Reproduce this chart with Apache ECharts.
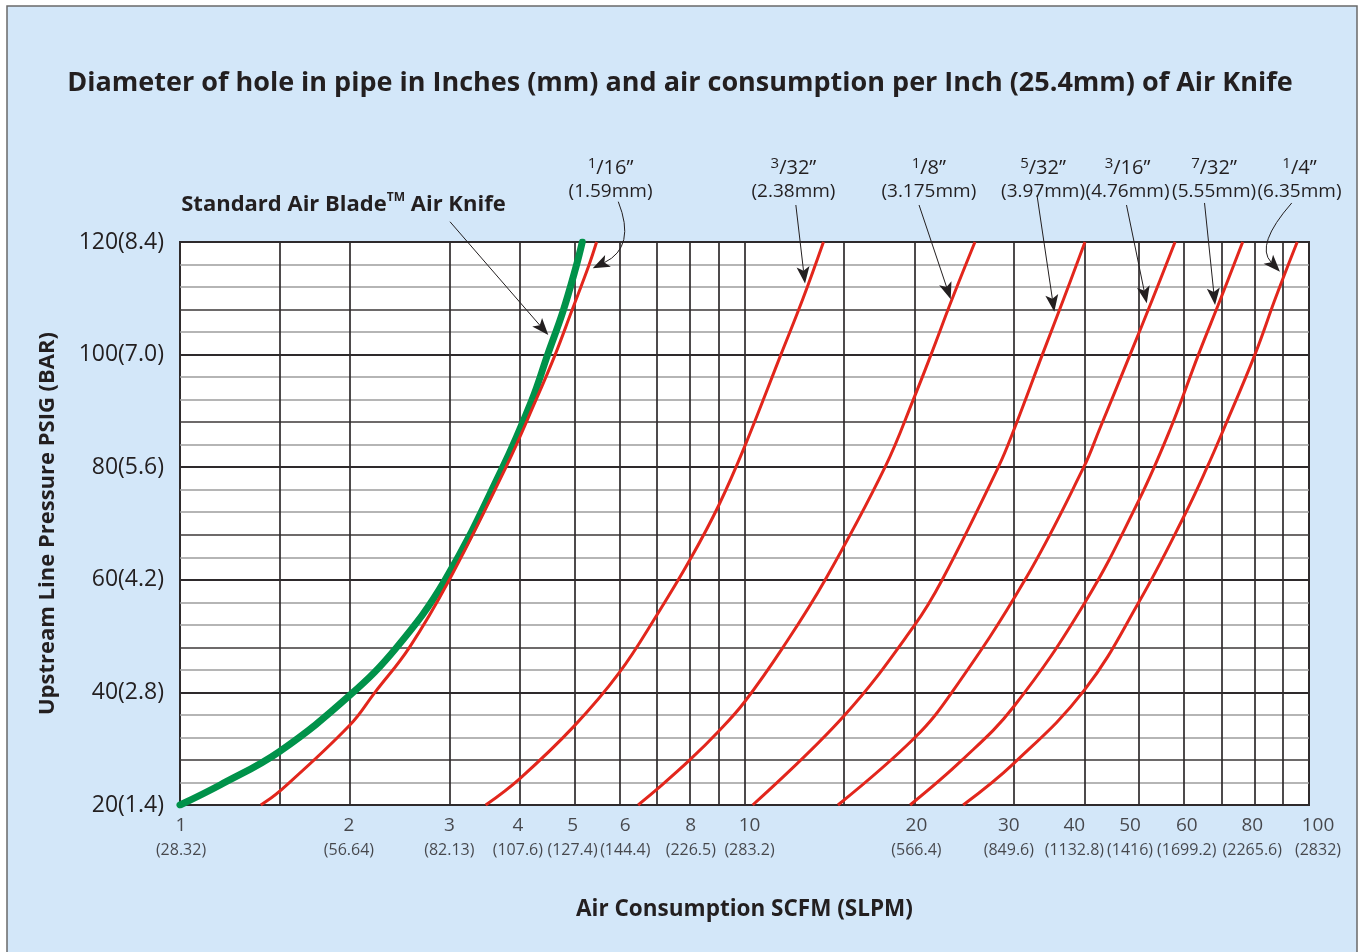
<!DOCTYPE html>
<html>
<head>
<meta charset="utf-8">
<script src="https://cdn.jsdelivr.net/npm/echarts@6/dist/echarts.min.js"></script>
<style>
html,body{margin:0;padding:0;background:#ffffff;}
#c{width:1360px;height:952px;}
</style>
</head>
<body>
<div id="c"></div>
<script>
// ---------------- data ----------------
const chartTitle = 'Diameter of hole in pipe in Inches (mm) and air consumption per Inch (25.4mm) of Air Knife';
const xAxisTitle = 'Air Consumption SCFM (SLPM)';
const yAxisTitle = 'Upstream Line Pressure PSIG (BAR)';

// x tick labels (SCFM and SLPM)
const xTickSCFM = [1, 2, 3, 4, 5, 6, 8, 10, 20, 30, 40, 50, 60, 80, 100];
const xTickSLPM = ['28.32', '56.64', '82.13', '107.6', '127.4', '144.4', '226.5', '283.2',
                   '566.4', '849.6', '1132.8', '1416', '1699.2', '2265.6', '2832'];
const xTickNudgePx = [1, -1, 0, -2, -2, 6, 1, 5, 2, -5, -10, -9, 3, -2, 9];
// vertical grid lines (SCFM)
const xGridSCFM = [1.5, 2, 3, 4, 5, 6, 7, 8, 9, 10, 15, 20, 30, 40, 50, 60, 70, 80, 90];
// y tick labels (PSIG and BAR)
const yTickPSIG = [20, 40, 60, 80, 100, 120];
const yTickBAR = ['1.4', '2.8', '4.2', '5.6', '7.0', '8.4'];

// Standard Air Blade curve
const bladeSCFM = [1, 1.18, 1.5, 2, 2.42, 2.95, 3.71, 4.2, 4.48, 4.77, 5.03, 5.16];
const bladePSIG = [20, 23.6, 29.5, 39.5, 48, 60, 79.5, 91.9, 100, 107.7, 115.6, 120];

// hole-size curves
const hole1_16SCFM = [1.39, 1.5, 2, 2.215, 2.55, 3.0, 3.78, 4.27, 4.62, 4.94, 5.29, 5.47];
const hole1_16PSIG = [20, 22.4, 34.2, 40, 48, 60, 80, 91.9, 100, 107.7, 115.6, 120];
const hole3_32SCFM = [3.48, 4, 5, 6, 7, 8, 9, 10, 11.6, 12.7, 13.8];
const hole3_32PSIG = [20, 24.7, 34.1, 43.5, 53.8, 63.5, 73.2, 83.6, 100, 110, 120];
const hole1_8SCFM = [6.48, 7, 8, 9, 10, 11.7, 13.9, 17.74, 20, 21.4, 23.35, 25.6];
const hole1_8PSIG = [20, 22.8, 28, 33.1, 38.3, 48, 60, 80, 92.5, 100, 110, 120];
const hole5_32SCFM = [10.34, 15, 20, 22.4, 28.16, 30, 33.7, 36.8, 40.1];
const hole5_32PSIG = [20, 35.8, 51.9, 60, 80, 86.6, 100, 110, 120];
const hole3_16SCFM = [14.64, 20, 23.3, 31.4, 39.9, 42.5, 48.2, 52.9, 57.9];
const hole3_16PSIG = [20, 31.9, 40, 60, 80, 86.6, 100, 110, 120];
const hole7_32SCFM = [19.65, 24.3, 30, 40, 50, 56.7, 63.7, 69.8, 76.3];
const hole7_32PSIG = [20, 28, 37.5, 55.8, 74.2, 86.6, 100, 110, 120];
const hole1_4SCFM = [24.4, 30, 40, 50, 60, 66, 70.5, 80.2, 87.2, 95.3];
const hole1_4PSIG = [20, 27.4, 40.4, 56.1, 71.2, 80, 86.6, 100, 110, 120];

// annotations (data coordinates: [SCFM, PSIG])
const holeNum = ['1', '3', '1', '5', '3', '7', '1'];
const holeDen = ['16', '32', '8', '32', '16', '32', '4'];
const holeMM = ['(1.59mm)', '(2.38mm)', '(3.175mm)', '(3.97mm)', '(4.76mm)', '(5.55mm)', '(6.35mm)'];
const holeLabelSCFM = [5.79, 12.21, 21.21, 33.8, 47.7, 67.9, 96.2];
const holeLabelFracPSIG = 133.1;
const holeLabelMmPSIG = 128.97;
const holeArrowTail = [[5.976, 127.16], [12.33, 126.57], [20.38, 126.57], [32.97, 128.35], [47.5, 126.57], [65.3, 126.93], [93.2, 126.93]];
const holeArrowBend = [[6.43, 119.11], null, null, null, null, null, [80.22, 119.47]];
const holeArrowTip = [[5.384, 115.33], [12.80, 112.61], [23.19, 109.82], [35.38, 107.62], [51.59, 109.11], [68.17, 108.81], [88.83, 114.73]];
const bladeLabelAt = [1.005, 126.6];
const bladeArrowTail = [3.008, 123.6];
const bladeArrowTip = [4.492, 103.48];

// ---------------- chart ----------------
const FONT = "'Open Sans', 'Noto Sans', 'DejaVu Sans', sans-serif";
const INK = '#231f20';
const RED = '#e2261c';
const GREEN = '#00924a';
const GRID_DARK = '#2f2b2c';
const GRID_GREY = '#9c9c9c';

const chart = echarts.init(document.getElementById('c'), null, {renderer: 'canvas'});

const curves = [
  {name: 'Standard Air Blade', x: bladeSCFM, y: bladePSIG, color: GREEN, width: 7, cap: 'round'},
  {name: '1/16', x: hole1_16SCFM, y: hole1_16PSIG, color: RED, width: 3},
  {name: '3/32', x: hole3_32SCFM, y: hole3_32PSIG, color: RED, width: 3},
  {name: '1/8', x: hole1_8SCFM, y: hole1_8PSIG, color: RED, width: 3},
  {name: '5/32', x: hole5_32SCFM, y: hole5_32PSIG, color: RED, width: 3},
  {name: '3/16', x: hole3_16SCFM, y: hole3_16PSIG, color: RED, width: 3},
  {name: '7/32', x: hole7_32SCFM, y: hole7_32PSIG, color: RED, width: 3},
  {name: '1/4', x: hole1_4SCFM, y: hole1_4PSIG, color: RED, width: 3}
];

const yMin = yTickPSIG[0], yMax = yTickPSIG[yTickPSIG.length - 1];

const option = {
  animation: false,
  backgroundColor: 'transparent',
  title: {
    text: chartTitle,
    left: 'center',
    top: 65,
    textStyle: {fontFamily: FONT, fontWeight: 'bold', fontSize: 27, color: INK}
  },
  grid: {
    left: 180, top: 242, right: 51, bottom: 147,
    show: true, backgroundColor: '#ffffff', borderColor: GRID_DARK, borderWidth: 2,
    containLabel: false, outerBoundsMode: 'none'
  },
  xAxis: {
    type: 'log', logBase: 10, min: 1, max: 100,
    name: xAxisTitle, nameLocation: 'middle', nameGap: 93,
    nameTextStyle: {fontFamily: FONT, fontWeight: 'bold', fontSize: 22.5, color: INK},
    axisLine: {show: false}, axisTick: {show: false}, axisLabel: {show: false},
    splitLine: {show: false}, minorTick: {show: false}, minorSplitLine: {show: false}
  },
  yAxis: [
    {
      type: 'value', min: yMin, max: yMax, interval: 20,
      name: yAxisTitle, nameLocation: 'middle', nameGap: 121, nameRotate: 90,
      nameTextStyle: {fontFamily: FONT, fontWeight: 'bold', fontSize: 22, color: INK},
      axisLine: {show: false}, axisTick: {show: false},
      axisLabel: {
        margin: 16, fontFamily: FONT, fontSize: 23, color: INK,
        formatter: v => { const i = yTickPSIG.indexOf(v); return i >= 0 ? v + '(' + yTickBAR[i] + ')' : ''; }
      },
      splitLine: {show: true, lineStyle: {color: GRID_DARK, width: 2}}
    },
    {
      type: 'value', min: yMin, max: yMax, interval: 4, position: 'right',
      axisLine: {show: false}, axisTick: {show: false}, axisLabel: {show: false},
      splitLine: {show: true, lineStyle: {color: [GRID_DARK, GRID_GREY, '#3c3839', GRID_GREY, GRID_GREY], width: 1.5}}
    }
  ],
  series: [
    {
      type: 'scatter', name: 'ticks', silent: true, clip: false,
      symbolSize: 1, itemStyle: {color: 'rgba(0,0,0,0)'},
      data: xTickSCFM.map((v, i) => ({value: [v, yMin], label: {offset: [xTickNudgePx[i], 0]}})),
      label: {
        show: true, position: 'bottom', distance: 8, align: 'center',
        formatter: p => '{a|' + xTickSCFM[p.dataIndex] + '}\n{b|(' + xTickSLPM[p.dataIndex] + ')}',
        rich: {
          a: {fontFamily: FONT, fontSize: 19, lineHeight: 24, color: INK, align: 'center'},
          b: {fontFamily: FONT, fontSize: 16, lineHeight: 26, color: INK, align: 'center'}
        }
      },
      markLine: {
        silent: true, z: 1, symbol: ['none', 'none'], animation: false,
        label: {show: false},
        lineStyle: {color: GRID_DARK, width: 1.7, type: 'solid'},
        emphasis: {disabled: true},
        data: xGridSCFM.map(v => ({xAxis: v}))
      }
    }
  ].concat(curves.map(c => ({
    type: 'line', name: c.name, silent: true,
    data: c.x.map((v, i) => [v, c.y[i]]),
    smooth: 0.4, showSymbol: false, symbol: 'none',
    lineStyle: {color: c.color, width: c.width, cap: c.cap || 'butt', join: 'round'},
    z: 3
  })))
};

chart.setOption(option);

// ---------------- annotations ----------------
const toPx = p => chart.convertToPixel({xAxisIndex: 0, yAxisIndex: 0}, p);
const els = [];
els.push({
  type: 'rect', id: 'bg', silent: true, z: -10,
  shape: {x: 7, y: 6, width: 1350, height: 960},
  style: {fill: '#d3e7f9', stroke: '#6a6a6a', lineWidth: 1.5}
});
let gid = 0;
function arrow(tail, tip, bend) {
  const T = toPx(tip), P = toPx(tail), C = bend ? toPx(bend) : P;
  const dx = T[0] - C[0], dy = T[1] - C[1], len = Math.hypot(dx, dy);
  const ux = dx / len, uy = dy / len;
  const L = 17, W = 6.5;
  const B = [T[0] - ux * L, T[1] - uy * L];
  const notch = [B[0] + ux * 4, B[1] + uy * 4];
  const left = [B[0] - uy * W, B[1] + ux * W];
  const right = [B[0] + uy * W, B[1] - ux * W];
  if (bend) {
    els.push({type: 'bezierCurve', id: 'a' + (gid++), silent: true, z: 50,
      shape: {x1: P[0], y1: P[1], x2: notch[0], y2: notch[1], cpx1: C[0], cpy1: C[1]},
      style: {stroke: INK, lineWidth: 1, fill: 'none'}});
  } else {
    els.push({type: 'line', id: 'a' + (gid++), silent: true, z: 50,
      shape: {x1: P[0], y1: P[1], x2: notch[0], y2: notch[1]},
      style: {stroke: INK, lineWidth: 1}});
  }
  els.push({type: 'polygon', id: 'a' + (gid++), silent: true, z: 51,
    shape: {points: [T, left, notch, right]},
    style: {fill: INK}});
}

holeNum.forEach((n, i) => {
  const pf = toPx([holeLabelSCFM[i], holeLabelFracPSIG]);
  const pm = toPx([holeLabelSCFM[i], holeLabelMmPSIG]);
  els.push({type: 'text', id: 'f' + i, silent: true, z: 60, x: pf[0], y: pf[1],
    style: {
      text: '{s|' + n + '}{n|/' + holeDen[i] + '\u201D}',
      align: 'center', verticalAlign: 'middle',
      rich: {
        s: {fontFamily: FONT, fontSize: 15, lineHeight: 10, verticalAlign: 'top', fill: INK},
        n: {fontFamily: FONT, fontSize: 20, lineHeight: 24, fill: INK}
      }
    }});
  els.push({type: 'text', id: 'm' + i, silent: true, z: 60, x: pm[0], y: pm[1],
    style: {text: holeMM[i], align: 'center', verticalAlign: 'middle',
      fontFamily: FONT, fontSize: 19, fill: INK}});
  arrow(holeArrowTail[i], holeArrowTip[i], holeArrowBend[i]);
});

const pb = toPx(bladeLabelAt);
els.push({type: 'text', id: 'blade', silent: true, z: 60, x: pb[0], y: pb[1],
  style: {
    text: '{b|Standard Air Blade}{t|TM}{b| Air Knife}',
    align: 'left', verticalAlign: 'middle',
    rich: {
      b: {fontFamily: FONT, fontWeight: 'bold', fontSize: 22, lineHeight: 26, fill: INK},
      t: {fontFamily: FONT, fontWeight: 'bold', fontSize: 12, lineHeight: 12, verticalAlign: 'top', fill: INK}
    }
  }});
arrow(bladeArrowTail, bladeArrowTip, null);

chart.setOption({graphic: {elements: els}});
</script>
</body>
</html>
